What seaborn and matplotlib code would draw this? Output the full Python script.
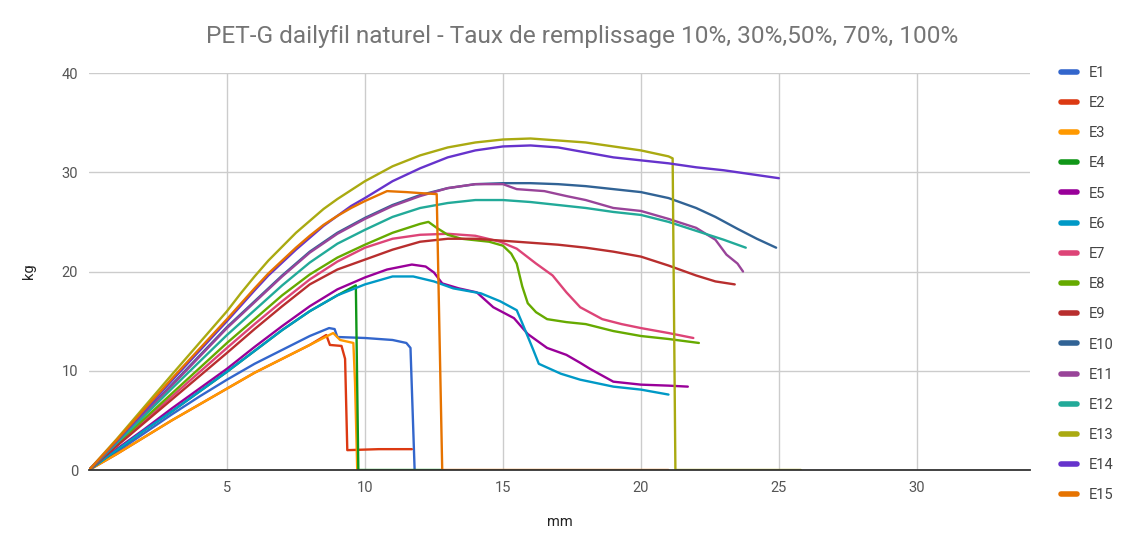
import matplotlib
matplotlib.use("Agg")
import matplotlib.pyplot as plt
import numpy as np
import pandas as pd
import seaborn as sns

# ---------------- data ----------------
series_names = ["E1", "E2", "E3", "E4", "E5", "E6", "E7", "E8", "E9", "E10",
                "E11", "E12", "E13", "E14", "E15"]
series_colors = ["#3366cc", "#dc3912", "#ff9900", "#109618", "#990099",
                 "#0099c6", "#dd4477", "#66aa00", "#b82e2e", "#316395",
                 "#994499", "#22aa99", "#aaaa11", "#6633cc", "#e67300"]

E1_x = [0, 1, 2, 3, 4, 5, 6, 7, 8, 8.7, 8.9, 9.0, 10, 11, 11.5, 11.65, 11.8]
E1_y = [0, 1.8, 3.7, 5.6, 7.4, 9.1, 10.7, 12.1, 13.5, 14.3, 14.2, 13.4, 13.3, 13.1, 12.8, 12.3, 0]

E2_x = [0, 1, 2, 3, 4, 5, 6, 7, 8, 8.6, 8.73, 9.15, 9.28, 9.36, 10.5, 11.7]
E2_y = [0, 1.6, 3.3, 5.0, 6.6, 8.2, 9.8, 11.2, 12.6, 13.6, 12.6, 12.5, 11.2, 2.0, 2.1, 2.1]

E3_x = [0, 1, 2, 3, 4, 5, 6, 7, 8, 8.85, 9.1, 9.58, 9.64, 9.72]
E3_y = [0, 1.6, 3.3, 5.0, 6.6, 8.2, 9.8, 11.2, 12.6, 13.8, 13.1, 12.8, 8.8, 0]

E4_x = [0, 1, 2, 3, 4, 5, 6, 7, 8, 9, 9.67, 9.76, 12.8]
E4_y = [0, 2.0, 4.0, 5.9, 7.9, 9.9, 12.0, 14.1, 16.0, 17.6, 18.6, 0, 0]

E5_x = [0, 1, 2, 3, 4, 5, 6, 7, 8, 9, 10, 10.8, 11.7, 12.2, 12.5, 12.8, 13.4, 14.05,
        14.65, 15.4, 15.9, 16.6, 17.3, 17.8, 18.15, 19, 20, 21, 21.7]
E5_y = [0, 2.1, 4.1, 6.2, 8.2, 10.2, 12.4, 14.5, 16.5, 18.2, 19.4, 20.2, 20.7, 20.5,
        19.9, 18.8, 18.3, 17.9, 16.4, 15.3, 13.7, 12.3, 11.6, 10.8, 10.2, 8.9, 8.6, 8.5, 8.4]

E6_x = [0, 1, 2, 3, 4, 5, 6, 7, 8, 9, 10, 11, 11.75, 12.5, 13.2, 14.2, 14.9, 15.5,
        15.7, 16.1, 16.3, 17.1, 17.8, 19, 20, 21]
E6_y = [0, 2.0, 4.0, 5.9, 7.9, 9.9, 12.0, 14.1, 16.0, 17.6, 18.7, 19.5, 19.5, 19.0,
        18.3, 17.8, 17.0, 16.1, 14.8, 12.1, 10.7, 9.7, 9.1, 8.4, 8.1, 7.6]

E7_x = [0, 1, 3, 5, 6, 7, 8, 9, 10, 11, 12, 13, 14, 14.9, 15.5, 16.2, 16.8, 17.3,
        17.8, 18.6, 19.3, 20, 21, 21.9]
E7_y = [0, 2.5, 7.4, 12.3, 14.7, 17.0, 19.2, 21.0, 22.4, 23.3, 23.7, 23.8, 23.6,
        23.0, 22.3, 20.8, 19.6, 17.9, 16.4, 15.2, 14.7, 14.3, 13.8, 13.3]

E8_x = [0, 1, 3, 5, 6, 7, 8, 9, 10, 11, 12, 12.3, 12.6, 13, 13.5, 14.5, 15, 15.3,
        15.5, 15.7, 15.9, 16.2, 16.6, 17.3, 18, 19, 20, 21, 22.1]
E8_y = [0, 2.6, 7.7, 12.8, 15.2, 17.6, 19.7, 21.4, 22.7, 23.9, 24.8, 25.0, 24.4,
        23.7, 23.3, 23.0, 22.6, 21.8, 20.8, 18.5, 16.8, 15.9, 15.2, 14.9, 14.7,
        14.0, 13.5, 13.2, 12.8]

E9_x = [0, 1, 3, 5, 6, 7, 8, 9, 10, 11, 12, 13, 14, 15, 16, 17, 18, 19, 20, 21,
        22, 22.7, 23.4]
E9_y = [0, 2.4, 7.1, 11.8, 14.2, 16.5, 18.7, 20.2, 21.2, 22.2, 23.0, 23.3, 23.3,
        23.1, 22.9, 22.7, 22.4, 22.0, 21.5, 20.6, 19.6, 19.0, 18.7]

E10_x = [0, 1, 3, 5, 6, 7, 8, 9, 10, 11, 12, 13, 14, 15, 16, 17, 18, 19, 20, 21,
         22, 22.7, 23.5, 24.2, 24.9]
E10_y = [0, 2.8, 8.6, 14.4, 17.0, 19.6, 22.0, 23.9, 25.4, 26.7, 27.7, 28.4, 28.8,
         28.9, 28.9, 28.8, 28.6, 28.3, 28.0, 27.4, 26.4, 25.5, 24.3, 23.3, 22.4]

E11_x = [0, 1, 3, 5, 6, 7, 8, 9, 10, 11, 12, 13, 14, 15, 15.5, 16.5, 17.3, 18, 19,
         20, 21, 22, 22.7, 23.1, 23.5, 23.7]
E11_y = [0, 2.8, 8.5, 14.3, 16.9, 19.5, 21.9, 23.8, 25.3, 26.6, 27.6, 28.4, 28.8,
         28.8, 28.3, 28.1, 27.6, 27.2, 26.4, 26.1, 25.3, 24.4, 23.2, 21.7, 20.8, 20.0]

E12_x = [0, 1, 3, 5, 6, 7, 8, 9, 10, 11, 12, 13, 14, 15, 16, 17, 18, 19, 20, 21,
         22, 23, 23.8]
E12_y = [0, 2.7, 8.2, 13.6, 16.1, 18.6, 20.9, 22.8, 24.2, 25.5, 26.4, 26.9, 27.2,
         27.2, 27.0, 26.7, 26.4, 26.0, 25.7, 25.0, 24.1, 23.2, 22.4]

E13_x = [0, 1, 3, 5, 5.5, 6, 6.5, 7, 7.5, 8, 8.5, 9, 9.5, 10, 11, 12, 13, 14, 15,
         16, 17, 18, 19, 20, 21, 21.15, 21.25, 25.8]
E13_y = [0, 3.1, 9.6, 16.0, 17.8, 19.5, 21.1, 22.5, 23.9, 25.1, 26.3, 27.3, 28.2,
         29.1, 30.6, 31.7, 32.5, 33.0, 33.3, 33.4, 33.2, 33.0, 32.6, 32.2, 31.6,
         31.4, 0, 0]

E14_x = [0, 1, 3, 5, 6, 6.5, 7, 7.5, 8, 8.5, 9, 9.5, 10, 11, 12, 13, 14, 15, 16,
         17, 18, 19, 20, 21, 22, 23, 24, 25]
E14_y = [0, 2.9, 9.0, 15.0, 18.1, 19.6, 20.9, 22.2, 23.4, 24.6, 25.6, 26.6, 27.4,
         29.1, 30.4, 31.5, 32.2, 32.6, 32.7, 32.5, 32.0, 31.5, 31.2, 30.9, 30.5,
         30.2, 29.8, 29.4]

E15_x = [0, 1, 3, 5, 6, 6.5, 7, 7.5, 8, 8.5, 9, 9.5, 10, 10.8, 11.5, 12, 12.6,
         12.8, 21.0]
E15_y = [0, 3.0, 9.2, 15.2, 18.3, 19.8, 21.1, 22.4, 23.6, 24.7, 25.6, 26.4, 27.1,
         28.1, 28.0, 27.9, 27.8, 0, 0]

x_ticks = [5, 10, 15, 20, 25, 30]
y_ticks = [0, 10, 20, 30, 40]
title_text = "PET-G dailyfil naturel - Taux de remplissage 10%, 30%,50%, 70%, 100%"
x_label = "mm"
y_label = "kg"

# ---------------- build table ----------------
all_x = [E1_x, E2_x, E3_x, E4_x, E5_x, E6_x, E7_x, E8_x, E9_x, E10_x, E11_x,
         E12_x, E13_x, E14_x, E15_x]
all_y = [E1_y, E2_y, E3_y, E4_y, E5_y, E6_y, E7_y, E8_y, E9_y, E10_y, E11_y,
         E12_y, E13_y, E14_y, E15_y]
frames = []
for name, xs, ys in zip(series_names, all_x, all_y):
    frames.append(pd.DataFrame({"series": name, "mm": xs, "kg": ys}))
df = pd.concat(frames, ignore_index=True)

# ---------------- style ----------------
sns.set_theme(style="white")
plt.rcParams["font.family"] = ["Roboto", "DejaVu Sans"]

fig = plt.figure(figsize=(11.25, 5.36), dpi=100)
ax = fig.add_axes([89 / 1125, 66 / 536, (1030 - 89) / 1125, (470 - 73) / 536])

sns.lineplot(data=df, x="mm", y="kg", hue="series", hue_order=series_names,
             palette=series_colors, estimator=None, sort=False, units="series",
             linewidth=1.7, ax=ax, legend=True)

ax.set_xlim(0, 34.1)
ax.set_ylim(0, 40)
ax.set_xticks(x_ticks)
ax.set_yticks(y_ticks)
ax.grid(True, color="#cccccc", linewidth=1.0)
ax.set_axisbelow(True)
for s in ["top", "right", "left"]:
    ax.spines[s].set_visible(False)
ax.spines["bottom"].set_color("#333333")
ax.spines["bottom"].set_linewidth(1.3)
ax.spines["bottom"].set_zorder(3)
ax.tick_params(axis="both", length=0, labelsize=10.5, colors="#555555", pad=8)
ax.set_xlabel(x_label, fontsize=10.5, color="#222222", labelpad=14)
ax.set_ylabel(y_label, fontsize=10.5, color="#222222", labelpad=18)

fig.text(582 / 1125, 1 - 36 / 536, title_text, ha="center", va="center",
         fontsize=17.6, color="#757575")

handles, labels = ax.get_legend_handles_labels()
if ax.get_legend() is not None:
    ax.get_legend().remove()
leg = fig.legend(handles, labels, loc="upper left",
                 bbox_to_anchor=(1055 / 1125, 1 - 60 / 536),
                 frameon=False, fontsize=10.5, handlelength=1.1,
                 handletextpad=0.8, labelspacing=1.11, borderaxespad=0)
for h in leg.legend_handles:
    h.set_linewidth(4)
for t in leg.get_texts():
    t.set_color("#444444")

fig.savefig("out.png", dpi=100)
